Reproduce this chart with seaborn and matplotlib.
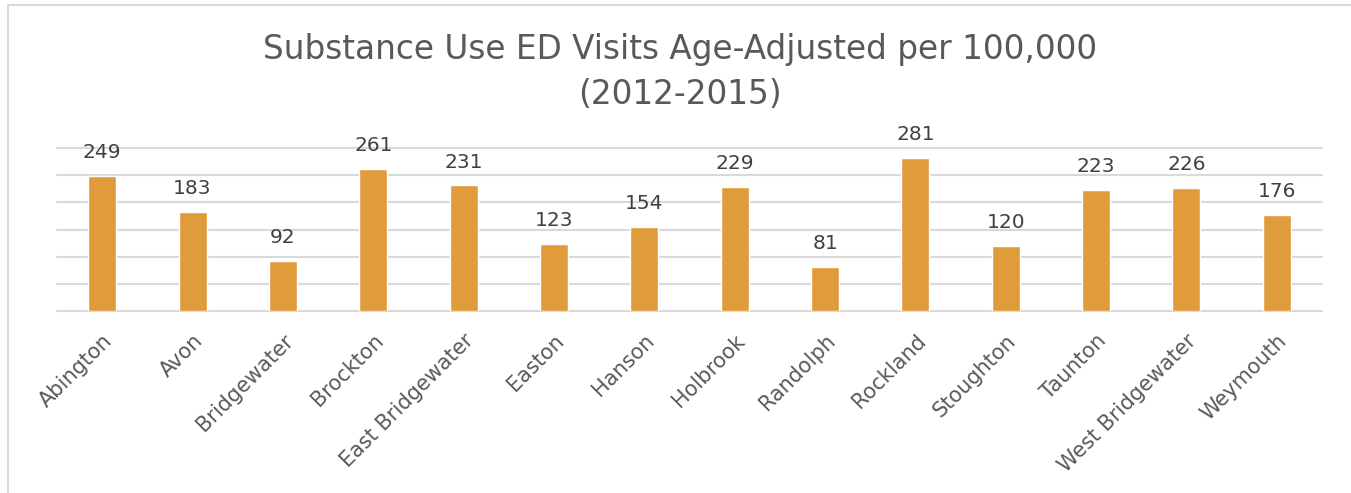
import matplotlib
matplotlib.use("Agg")
import matplotlib.pyplot as plt
from matplotlib.lines import Line2D
import seaborn as sns
import pandas as pd

towns = ["Abington", "Avon", "Bridgewater", "Brockton", "East Bridgewater",
         "Easton", "Hanson", "Holbrook", "Randolph", "Rockland",
         "Stoughton", "Taunton", "West Bridgewater", "Weymouth"]
rates = [249, 183, 92, 261, 231, 123, 154, 229, 81, 281, 120, 223, 226, 176]

title_lines = ["Substance Use ED Visits Age-Adjusted per 100,000", "(2012-2015)"]

df = pd.DataFrame({"town": towns, "rate": rates})

sns.set_theme(style="white")
plt.rcParams["font.family"] = ["DejaVu Sans"]

W, H = 1351, 493
fig = plt.figure(figsize=(W / 100, H / 100), dpi=100)
ax = fig.add_axes([57 / W, 1 - 311 / H, (1322 - 57) / W, (311 - 148) / H])

sns.barplot(data=df, x="town", y="rate", color="#E09C3A", saturation=1,
            width=0.31, ax=ax, zorder=3)

ax.set_ylim(0, 300)
ax.set_xlim(-0.5, len(towns) - 0.5)
ax.set_yticks(range(0, 301, 50))
ax.yaxis.grid(True, color="#D9D9D9", linewidth=1.5, zorder=0)
for gl in ax.get_ygridlines():
    gl.set_clip_on(False)
ax.tick_params(axis="y", left=False, labelleft=False)
ax.tick_params(axis="x", bottom=False, pad=8)
ax.set_xlabel("")
ax.set_ylabel("")
for side in ["top", "right", "left", "bottom"]:
    ax.spines[side].set_visible(False)

ax.set_xticks(range(len(towns)))
ax.set_xticklabels(towns, rotation=45, ha="right", rotation_mode="anchor",
                   fontsize=15, color="#595959")

for i, v in enumerate(rates):
    ax.annotate(f"{v}", (i, v), xytext=(0, 10), textcoords="offset points",
                ha="center", va="bottom", fontsize=14.5, color="#404040")

for y_px, line in zip([50, 95], title_lines):
    fig.text(680 / W, 1 - y_px / H, line, ha="center", va="center",
             fontsize=23.6, color="#595959")

# light frame around the chart area
frame = dict(color="#D9D9D9", linewidth=1.5, transform=fig.transFigure)
fig.add_artist(Line2D([8 / W, 1.0], [1 - 5 / H, 1 - 5 / H], **frame))
fig.add_artist(Line2D([8 / W, 8 / W], [0.0, 1 - 5 / H], **frame))

fig.savefig("out.png", dpi=100, facecolor="white")
